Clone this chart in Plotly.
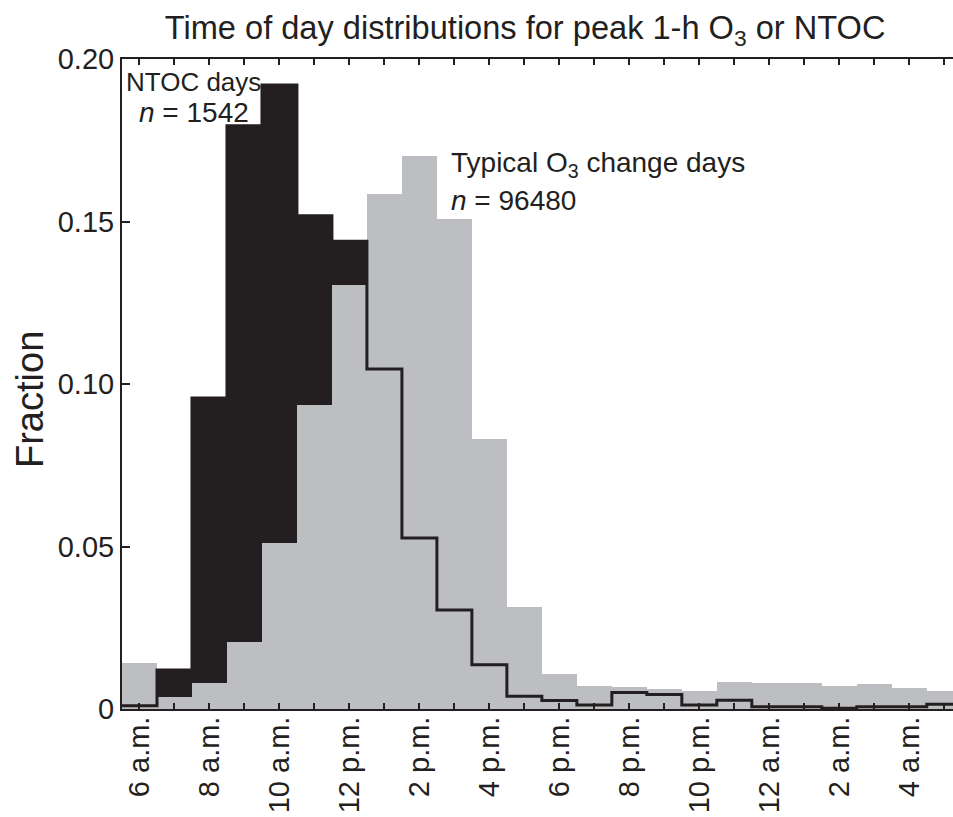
import numpy as np
import plotly.graph_objects as go

hours = list(range(24))  # bins: 6 a.m. ... 5 a.m.
tick_hours = [0, 2, 4, 6, 8, 10, 12, 14, 16, 18, 20, 22]
tick_labels = ["6 a.m.", "8 a.m.", "10 a.m.", "12 p.m.", "2 p.m.", "4 p.m.",
               "6 p.m.", "8 p.m.", "10 p.m.", "12 a.m.", "2 a.m.", "4 a.m."]

ntoc = [0.001, 0.012, 0.0957, 0.1795, 0.192, 0.1518, 0.1439, 0.1046, 0.0526, 0.0305, 0.0136, 0.0039,
        0.0026, 0.0012, 0.0051, 0.0045, 0.0012, 0.0027, 0.0007, 0.0007, 0.0002, 0.0007, 0.0007, 0.0015]
typical = [0.0143, 0.0038, 0.0079, 0.0207, 0.051, 0.0936, 0.1305, 0.1585, 0.1702, 0.1508, 0.0831, 0.0313,
           0.0108, 0.0072, 0.0067, 0.0063, 0.0056, 0.0082, 0.0081, 0.0079, 0.0072, 0.0077, 0.0064, 0.0054]

y_ticks = [0, 0.05, 0.10, 0.15, 0.20]
y_tick_text = ["0", "0.05", "0.10", "0.15", "0.20"]

BLACK = "#231f20"
GRAY = "#bcbec1"
FONT = "Liberation Sans, Arial, Helvetica, sans-serif"

edges = list(np.array(hours) - 0.5) + [hours[-1] + 0.5]
step_y = ntoc + [ntoc[-1]]
x_range = [-0.5, 23.25]

fig = go.Figure()
fig.add_trace(go.Bar(x=hours, y=ntoc, width=1, marker=dict(color=BLACK, line=dict(width=0)),
                     showlegend=False, hoverinfo="skip"))
fig.add_trace(go.Bar(x=hours, y=typical, width=1, marker=dict(color=GRAY, line=dict(width=0)),
                     showlegend=False, hoverinfo="skip"))
fig.add_trace(go.Scatter(x=edges, y=step_y, mode="lines", line=dict(color=BLACK, width=3, shape="hv"),
                         showlegend=False, hoverinfo="skip"))
# invisible trace to anchor the top (mirror) axis
fig.add_trace(go.Scatter(x=[hours[0]], y=[0], xaxis="x2", mode="markers", marker=dict(opacity=0),
                         showlegend=False, hoverinfo="skip"))

fig.update_layout(
    width=953, height=817,
    margin=dict(l=122, r=0, t=59, b=108),
    paper_bgcolor="white", plot_bgcolor="white",
    barmode="overlay", bargap=0,
    font=dict(family=FONT, size=28, color=BLACK),
    title=dict(text="Time of day distributions for peak 1-h O<sub>3</sub> or NTOC",
               x=0.551, xanchor="center", y=0.966, yanchor="middle",
               font=dict(size=32.6, family=FONT, color=BLACK)),
    xaxis2=dict(overlaying="x", side="top", anchor="y", range=x_range,
                tickmode="array", tickvals=hours, showticklabels=False,
                ticks="inside", ticklen=6, tickwidth=1.5, tickcolor=BLACK,
                showline=True, linecolor=BLACK, linewidth=2, showgrid=False, zeroline=False),
)

fig.layout.xaxis.update(
    range=x_range, tickmode="array", tickvals=tick_hours, ticktext=tick_labels,
    tickangle=-90, ticks="inside", ticklen=6, tickwidth=1.5, tickcolor=BLACK,
    minor=dict(tickmode="array", tickvals=hours, ticks="inside", ticklen=6, tickwidth=1.5,
               tickcolor=BLACK, showgrid=False),
    showline=True, linecolor=BLACK, linewidth=2, mirror=False,
    showgrid=False, zeroline=False, tickfont=dict(size=29), ticklabelstandoff=-6,
)
fig.update_yaxes(
    range=[0, 0.2], tickmode="array", tickvals=y_ticks, ticktext=y_tick_text,
    ticks="inside", ticklen=8, tickwidth=1.5, tickcolor=BLACK,
    showline=True, linecolor=BLACK, linewidth=2, mirror=False,
    showgrid=False, zeroline=False, tickfont=dict(size=29),
)

fig.add_annotation(x=(30 - 122) / 831, y=(709 - 400) / 650, xref="paper", yref="paper",
                   text="Fraction", textangle=-90,
                   showarrow=False, xanchor="center", yanchor="middle", font=dict(size=38))
fig.add_annotation(x=0.003, y=0.965, xref="paper", yref="paper", text="NTOC days",
                   showarrow=False, xanchor="left", yanchor="middle", font=dict(size=26))
fig.add_annotation(x=0.087, y=0.917, xref="paper", yref="paper", text="<i>n</i> = 1542",
                   showarrow=False, xanchor="center", yanchor="middle", font=dict(size=28))
fig.add_annotation(x=0.393, y=0.837, xref="paper", yref="paper", text="Typical O<sub>3</sub> change days",
                   showarrow=False, xanchor="left", yanchor="middle", font=dict(size=28))
fig.add_annotation(x=0.393, y=0.783, xref="paper", yref="paper", text="<i>n</i> = 96480",
                   showarrow=False, xanchor="left", yanchor="middle", font=dict(size=28))

fig.write_html("out.html")
